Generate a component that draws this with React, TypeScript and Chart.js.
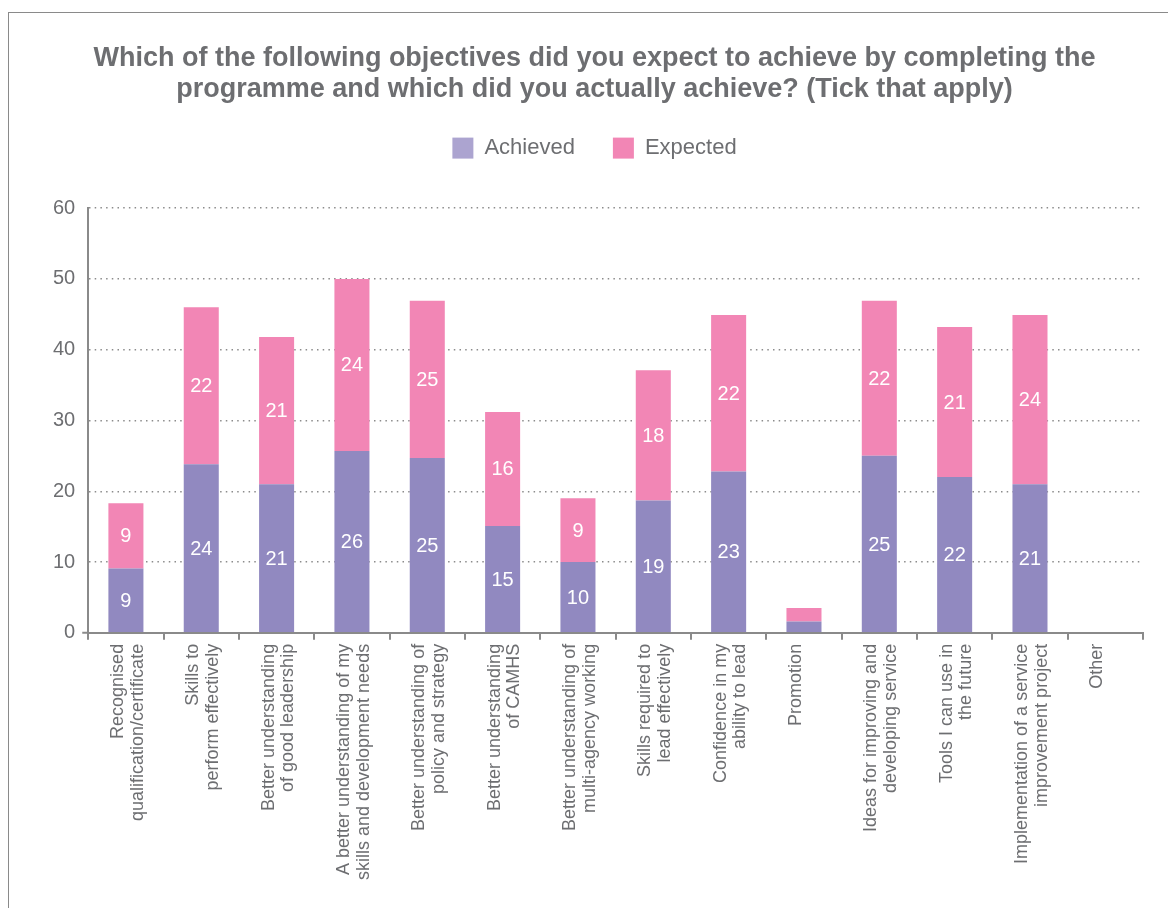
import React, { useEffect, useRef } from "react";
import { Chart, registerables } from "chart.js";

Chart.register(...registerables);

const categories: (string | string[])[] = [
  ["Recognised", "qualification/certificate"],
  ["Skills to", "perform effectively"],
  ["Better understanding", "of good leadership"],
  ["A better understanding of my", "skills and development needs"],
  ["Better understanding of", "policy and strategy"],
  ["Better understanding", "of CAMHS"],
  ["Better understanding of", "multi-agency working"],
  ["Skills required to", "lead effectively"],
  ["Confidence in my", "ability to lead"],
  "Promotion",
  ["Ideas for improving and", "developing service"],
  ["Tools I can use in", "the future"],
  ["Implementation of a service", "improvement project"],
  "Other",
];

const achieved = [9.1, 23.8, 21.0, 25.7, 24.7, 15.1, 10.0, 18.7, 22.8, 1.6, 25.0, 22.0, 21.0, 0];
const expected = [9.2, 22.2, 20.8, 24.3, 22.2, 16.1, 9.0, 18.4, 22.1, 1.9, 21.9, 21.2, 23.9, 0];

const achievedLabels = [9, 24, 21, 26, 25, 15, 10, 19, 23, null, 25, 22, 21, null];
const expectedLabels = [9, 22, 21, 24, 25, 16, 9, 18, 22, null, 22, 21, 24, null];

const yTicks = [0, 10, 20, 30, 40, 50, 60];

const titleLines = [
  "Which of the following objectives did you expect to achieve by completing the",
  "programme and which did you actually achieve? (Tick that apply)",
];

const FONT = "'Liberation Sans', Arial, Helvetica, sans-serif";
const GREY = "#6d6e71";
const AXIS = "#8a8a8a";
const PURPLE = "#9189c0";
const PURPLE_LEGEND = "#aca4d0";
const PINK = "#f286b5";

const segmentLabels = {
  id: "segmentLabels",
  afterDatasetsDraw(chart: any) {
    const ctx = chart.ctx;
    const sets = [achievedLabels, expectedLabels];
    ctx.save();
    ctx.font = `20px ${FONT}`;
    ctx.fillStyle = "#ffffff";
    ctx.textAlign = "center";
    ctx.textBaseline = "middle";
    sets.forEach((labels, di) => {
      const meta = chart.getDatasetMeta(di);
      meta.data.forEach((el: any, i: number) => {
        const v = labels[i];
        if (v === null || v === undefined) return;
        const y = (el.y + el.base) / 2;
        ctx.fillText(String(v), el.x, y + 1);
      });
    });
    ctx.restore();
  },
};

const legendGap = {
  id: "legendGap",
  beforeInit(chart: any) {
    if (!chart.legend) return;
    const orig = chart.legend.fit;
    chart.legend.fit = function () {
      orig.bind(chart.legend)();
      this.height += 39;
    };
  },
};

export default function App() {
  const ref = useRef<HTMLCanvasElement | null>(null);

  useEffect(() => {
    if (!ref.current) return;
    const chart = new Chart(ref.current, {
      type: "bar",
      data: {
        labels: categories,
        datasets: [
          {
            label: "Achieved",
            data: achieved,
            backgroundColor: PURPLE,
            borderWidth: 0,
            barPercentage: 0.465,
            categoryPercentage: 1,
          },
          {
            label: "Expected",
            data: expected,
            backgroundColor: PINK,
            borderWidth: 0,
            barPercentage: 0.465,
            categoryPercentage: 1,
          },
        ],
      },
      options: {
        responsive: false,
        animation: false,
        devicePixelRatio: 1,
        layout: { padding: { left: 38, right: 43, top: 0, bottom: 24 } },
        plugins: {
          title: {
            display: true,
            text: titleLines,
            color: GREY,
            font: { family: FONT, size: 27, weight: "bold", lineHeight: 1.15 },
            padding: { top: 43, bottom: -6 },
          },
          legend: {
            display: true,
            position: "top",
            labels: {
              color: GREY,
              font: { family: FONT, size: 22 },
              boxWidth: 21,
              boxHeight: 21,
              padding: 38,
              generateLabels(chart: any) {
                const items = Chart.defaults.plugins.legend.labels.generateLabels(chart);
                items.forEach((it: any, i: number) => {
                  it.fillStyle = i === 0 ? PURPLE_LEGEND : PINK;
                  it.lineWidth = 0;
                  it.strokeStyle = "transparent";
                });
                return items;
              },
            },
          },
          tooltip: { enabled: false },
        },
        scales: {
          x: {
            stacked: true,
            grid: {
              display: true,
              drawOnChartArea: false,
              drawTicks: true,
              tickLength: 7,
              color: AXIS,
              lineWidth: 2,
              offset: true,
            },
            border: { display: true, color: AXIS, width: 2 },
            ticks: {
              color: GREY,
              font: { family: FONT, size: 18, lineHeight: 1.1 },
              minRotation: 90,
              maxRotation: 90,
              autoSkip: false,
              padding: 4,
              labelOffset: -8,
            },
          },
          y: {
            stacked: true,
            min: 0,
            max: 60,
            afterBuildTicks(scale: any) {
              scale.ticks = yTicks.map((v) => ({ value: v }));
            },
            grid: {
              display: true,
              drawOnChartArea: true,
              drawTicks: true,
              tickLength: 6,
              color: "#8c8c8c",
              lineWidth: 1.5,
              tickColor: (c: any) => (c.tick && c.tick.value === 0 ? AXIS : "rgba(0,0,0,0)"),
              tickWidth: 2,
              tickBorderDash: [],
            },
            border: { display: true, color: AXIS, width: 2, dash: [1.5, 4.2] },
            ticks: {
              color: GREY,
              font: { family: FONT, size: 20 },
              padding: 7,
            },
          },
        },
      },
      plugins: [segmentLabels, legendGap],
    });
    return () => chart.destroy();
  }, []);

  return (
    <div
      style={{
        position: "absolute",
        left: 0,
        top: 0,
        width: 1168,
        height: 908,
        overflow: "hidden",
        background: "#ffffff",
      }}
    >
      <div
        style={{
          position: "absolute",
          left: 8,
          top: 12,
          width: 1200,
          height: 920,
          borderTop: "1px solid #8a8a8a",
          borderLeft: "1px solid #8a8a8a",
          boxSizing: "border-box",
        }}
      />
      <canvas
        ref={ref}
        width={1178}
        height={908}
        style={{ position: "absolute", left: 8, top: 0, width: 1178, height: 908 }}
      />
    </div>
  );
}
